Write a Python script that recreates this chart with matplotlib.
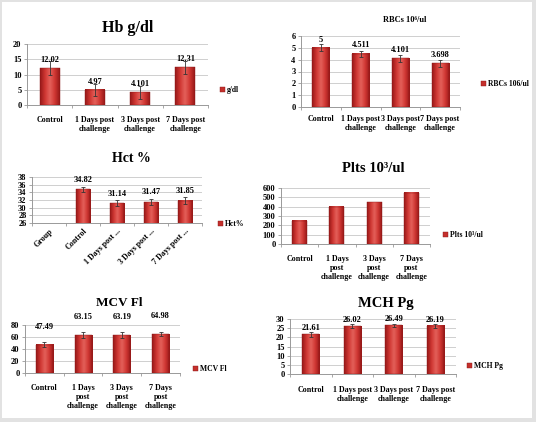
import numpy as np
import matplotlib
matplotlib.use("Agg")
import matplotlib.pyplot as plt
from matplotlib.colors import LinearSegmentedColormap
from matplotlib.patches import Patch, Rectangle

# --- DATA ---
groups = ["Control", "1 Days post\nchallenge", "3 Days post\nchallenge", "7 Days post\nchallenge"]
groups_tall = ["Control", "1 Days\npost\nchallenge", "3 Days\npost\nchallenge", "7 Days\npost\nchallenge"]
hct_groups = ["Group", "Control", "1 Days post ...", "3 Days post ...", "7 Days post ..."]

hb = [12.02, 4.97, 4.101, 12.31]
hb_err = [2.3, 2.0, 2.2, 2.2]
rbc = [5, 4.511, 4.101, 3.698]
rbc_err = [0.3, 0.25, 0.28, 0.28]
hct = [np.nan, 34.82, 31.14, 31.47, 31.85]
hct_err = [0, 0.7, 0.8, 0.8, 0.9]
plts = [250, 400, 445, 550]
mcv = [47.49, 63.15, 63.19, 64.98]
mcv_err = [4, 5, 5, 4]
mch = [21.61, 26.02, 26.49, 26.19]
mch_err = [1.3, 1.0, 1.0, 1.0]

# --- STYLE ---
W, H = 536, 422
SERIF = ["Liberation Serif", "DejaVu Serif"]
plt.rcParams["font.family"] = SERIF
RED = "#c4302c"
cmap = LinearSegmentedColormap.from_list(
    "bar", ["#961818", "#cf3632", "#e4615b", "#cf3632", "#961818"])
GRAD = np.linspace(0, 1, 64).reshape(1, -1)

fig = plt.figure(figsize=(W / 100, H / 100), dpi=100, facecolor="#e2e2e2")
fig.patches.append(Rectangle((2 / W, 4 / H), 530 / W, 416 / H, transform=fig.transFigure,
                             facecolor="white", edgecolor="none", zorder=-10))


def box(l, t, r, b):
    return [l / W, 1 - b / H, (r - l) / W, (b - t) / H]


def panel(rect, cats, vals, err, ylim, step, off, bw=0.44, rot=0, pad=7):
    ax = fig.add_axes(box(*rect))
    ax.set_facecolor("none")
    n = len(cats)
    x = np.arange(n)
    for xi, v in zip(x, vals):
        if np.isnan(v):
            continue
        ax.imshow(GRAD, extent=(xi - bw / 2, xi + bw / 2, 0, v), cmap=cmap,
                  aspect="auto", interpolation="bicubic", zorder=2)
        ax.bar(xi, v, bw, color="none", edgecolor="#8a1616", linewidth=0.3, zorder=3)
    if err is not None:
        m = ~np.isnan(np.array(vals, dtype=float))
        ax.errorbar(x[m], np.array(vals)[m], yerr=np.array(err)[m], fmt="none",
                    ecolor="#333333", elinewidth=0.6, capsize=1.5, capthick=0.6, zorder=4)
    if off is not None:
        for xi, v in zip(x, vals):
            if np.isnan(v):
                continue
            ax.annotate(f"{v:g}", (xi, v), xytext=(0, off), textcoords="offset points",
                        ha="center", va="bottom", fontsize=6, fontweight="bold",
                        annotation_clip=False, zorder=5)
    ax.set_xlim(-0.5, n - 0.5)
    ax.set_ylim(*ylim)
    ax.set_yticks(np.arange(ylim[0], ylim[1] + step / 2, step))
    ax.set_xticks(x)
    if rot:
        ax.set_xticklabels(cats, rotation=rot, ha="right", rotation_mode="anchor")
    else:
        ax.set_xticklabels(cats, linespacing=1.15)
    ax.set_xticks(np.arange(n + 1) - 0.5, minor=True)
    ax.tick_params(axis="x", which="major", length=0, pad=pad, labelsize=5.8)
    ax.tick_params(axis="x", which="minor", length=2, color="#999999", width=0.6)
    ax.tick_params(axis="y", length=2, color="#999999", width=0.6, labelsize=6, pad=2)
    for lab in ax.get_xticklabels() + ax.get_yticklabels():
        lab.set_fontweight("bold")
    ax.grid(axis="y", color="#c8c8c8", linewidth=0.6, zorder=0)
    ax.set_axisbelow(True)
    for s in ["top", "right"]:
        ax.spines[s].set_visible(False)
    for s in ["left", "bottom"]:
        ax.spines[s].set_color("#999999")
        ax.spines[s].set_linewidth(0.7)
    return ax


def legend(ax, label, lx, ly):
    ax.legend(handles=[Patch(facecolor=RED, edgecolor="#8a1616", linewidth=0.3, label=label)],
              loc="center left", bbox_to_anchor=(lx / W, 1 - ly / H),
              bbox_transform=fig.transFigure, frameon=False,
              handlelength=0.65, handleheight=0.65, handletextpad=0.3,
              borderpad=0, borderaxespad=0,
              prop={"family": SERIF, "weight": "bold", "size": 5.5})


def title(text, cx, cy, size):
    fig.text(cx / W, 1 - cy / H, text, ha="center", va="center", fontsize=size,
             fontweight="bold")


# 1. Hb
ax = panel((27, 44, 208, 105), groups, hb, hb_err, (0, 20), 5, 3, bw=0.44, pad=8)
legend(ax, "g/dl", 220, 90)
title("Hb g/dl", 128, 28, 11.5)

# 2. RBCs
ax = panel((301, 36, 460, 107), groups, rbc, rbc_err, (0, 6), 1, 3, bw=0.43, pad=6)
legend(ax, "RBCs 106/ul", 481, 84)
title("RBCs 10\u2076/ul", 405, 20, 6)

# 3. Hct
ax = panel((32, 177, 202, 223), hct_groups, hct, hct_err, (26, 38), 2, 4, bw=0.42, rot=45, pad=3)
legend(ax, "Hct%", 218, 224)
title("Hct %", 131, 159, 10)

# 4. Plts
ax = panel((281, 188, 430, 244), groups_tall, plts, None, (0, 600), 100, None, bw=0.4, pad=8)
legend(ax, "Plts 10\u00b3/ul", 443, 235)
title("Plts 10\u00b3/ul", 373, 169, 10.5)

# 5. MCV
ax = panel((25, 325, 180, 373), groups_tall, mcv, mcv_err, (0, 80), 20, 10, bw=0.44, pad=8)
legend(ax, "MCV Fl", 193, 369)
title("MCV Fl", 119, 303, 9.5)

# 6. MCH
ax = panel((290, 319, 456, 374), groups, mch, mch_err, (0, 30), 5, 1.5, bw=0.42, pad=9)
legend(ax, "MCH Pg", 467, 366)
title("MCH Pg", 386, 303, 10.5)

fig.savefig("out.png", dpi=100, facecolor=fig.get_facecolor())
